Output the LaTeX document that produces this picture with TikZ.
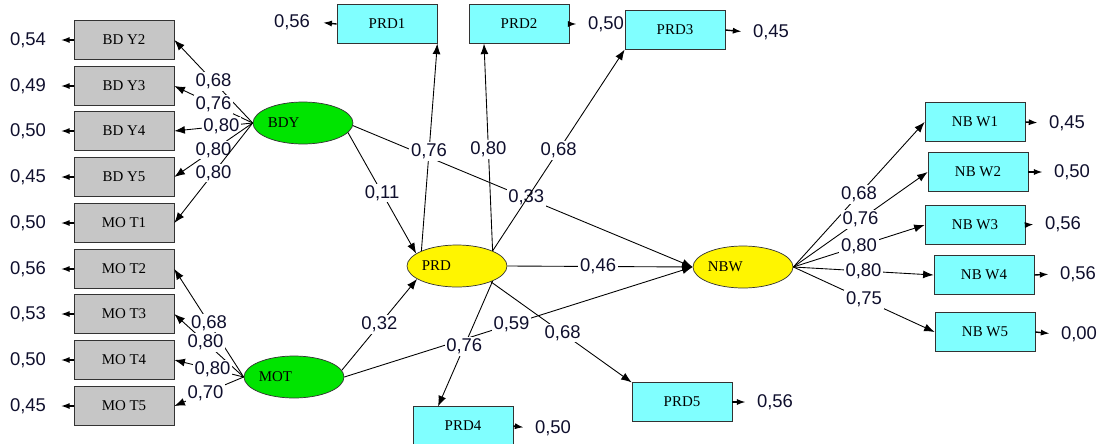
\documentclass[tikz,border=0pt]{standalone}
\usepackage{fontspec}
\setmainfont{Liberation Serif}
\setsansfont{Liberation Sans}
\usepackage{xcolor}
\usetikzlibrary{arrows.meta,shapes.geometric}
\definecolor{boxgray}{RGB}{198,198,198}
\definecolor{boxcyan}{RGB}{128,255,255}
\definecolor{latgreen}{RGB}{0,228,0}
\definecolor{latyellow}{RGB}{255,245,0}
\definecolor{valblue}{RGB}{15,15,45}

\begin{document}
\begin{tikzpicture}[x=0.02cm, y=-0.02cm]
		\tikzstyle{every node}=[font=\sffamily\fontsize{10.5}{12}\selectfont, text=valblue]
		\tikzstyle{indgray}=[draw=black!80, fill=boxgray, minimum width=2cm, minimum height=0.77cm, inner sep=0pt, font=\rmfamily\fontsize{8.5}{10}\selectfont, text=black]
		\tikzstyle{indcyan}=[indgray, fill=boxcyan]
		\tikzstyle{latent}=[draw=black!80, ellipse, minimum width=2cm, minimum height=0.84cm, inner sep=0pt]
		\tikzstyle{latname}=[anchor=west, xshift=0.18cm, font=\rmfamily\fontsize{8.5}{10}\selectfont, text=black]
		\tikzstyle{coef}=[fill=white, inner sep=1pt]
		\tikzstyle{load}=[line width=0.5pt, -{Latex[length=6pt,width=4.5pt]}]
		\tikzstyle{err}=[line width=0.8pt, -{Latex[length=5pt,width=3.5pt]}]
		\useasboundingbox (0,0) rectangle (1099,443);
		% latent variables
		\node [latent, fill=latgreen, label={[latname]west:BDY}] (BDY) at (303,123) {};
		\node [latent, fill=latgreen, label={[latname]west:MOT}] (MOT) at (294,377) {};
		\node [latent, fill=latyellow, label={[latname]west:PRD}] (PRD) at (457,266) {};
		\node [latent, fill=latyellow, label={[latname]west:NBW}] (NBW) at (743,267) {};
		% indicators
		\node [indgray] (BDY2) at (124,40) {BD Y2};
		\node [indgray] (BDY3) at (124,86) {BD Y3};
		\node [indgray] (BDY4) at (124,131) {BD Y4};
		\node [indgray] (BDY5) at (124,177) {BD Y5};
		\node [indgray] (MOT1) at (124,223) {MO T1};
		\node [indgray] (MOT2) at (124,269) {MO T2};
		\node [indgray] (MOT3) at (124,314) {MO T3};
		\node [indgray] (MOT4) at (124,360) {MO T4};
		\node [indgray] (MOT5) at (124,406) {MO T5};
		\node [indcyan] (PRD1) at (387,24) {PRD1};
		\node [indcyan] (PRD2) at (519,24) {PRD2};
		\node [indcyan] (PRD3) at (675,30) {PRD3};
		\node [indcyan] (PRD4) at (463,426) {PRD4};
		\node [indcyan] (PRD5) at (682,402) {PRD5};
		\node [indcyan] (NBW1) at (975,122) {NB W1};
		\node [indcyan] (NBW2) at (978,172) {NB W2};
		\node [indcyan] (NBW3) at (975,225) {NB W3};
		\node [indcyan] (NBW4) at (984,275) {NB W4};
		\node [indcyan] (NBW5) at (985,332) {NB W5};
		% error values
		\node (eBDY2) at (28,40) {0,54};
		\node (eBDY3) at (28,86) {0,49};
		\node (eBDY4) at (28,131) {0,50};
		\node (eBDY5) at (28,177) {0,45};
		\node (eMOT1) at (28,223) {0,50};
		\node (eMOT2) at (28,269) {0,56};
		\node (eMOT3) at (28,314) {0,53};
		\node (eMOT4) at (28,360) {0,50};
		\node (eMOT5) at (28,406) {0,45};
		\node (ePRD1) at (292,22) {0,56};
		\node (ePRD2) at (606,24) {0,50};
		\node (ePRD3) at (771,32) {0,45};
		\node (ePRD4) at (553,428) {0,50};
		\node (ePRD5) at (775,402) {0,56};
		\node (eNBW1) at (1067,123) {0,45};
		\node (eNBW2) at (1072,172) {0,50};
		\node (eNBW3) at (1063,224) {0,56};
		\node (eNBW4) at (1078,274) {0,56};
		\node (eNBW5) at (1079,334) {0,00};
		\foreach \n in {BDY2,BDY3,BDY4,BDY5,MOT1,MOT2,MOT3,MOT4,MOT5}
			\draw [err, shorten >=5pt] (\n.west) -- (e\n.east);
		\foreach \n in {PRD1}
			\draw [err, shorten >=4pt] (\n.west) -- (e\n.east);
		\foreach \n in {PRD2,PRD3,PRD4,PRD5,NBW1,NBW2,NBW3,NBW4,NBW5}
			\draw [err, shorten >=3pt] (\n.east) -- (e\n.west);
		% loadings
		\draw [load] (BDY.west) -- node [coef] {0,68} (BDY2.east);
		\draw [load] (BDY.west) -- node [coef] {0,76} (BDY3.east);
		\draw [load] (BDY.west) -- node [coef, pos=0.4] {0,80} (BDY4.east);
		\draw [load] (BDY.west) -- node [coef] {0,80} (BDY5.east);
		\draw [load] (BDY.west) -- node [coef] {0,80} (MOT1.east);
		\draw [load] (MOT.west) -- node [coef] {0,68} (MOT2.east);
		\draw [load] (MOT.west) -- node [coef, pos=0.55] {0,80} (MOT3.east);
		\draw [load] (MOT.west) -- node [coef, pos=0.45] {0,80} (MOT4.east);
		\draw [load] (MOT.west) -- node [coef, pos=0.55] {0,70} (MOT5.east);
		% structural paths
		\draw [load] (BDY.-3) -- node [coef, pos=0.51] {0,33} (NBW.west);
		\draw [load] (MOT.east) -- node [coef, pos=0.48] {0,59} (NBW.west);
		\draw [load] (PRD.east) -- node [coef, pos=0.49] {0,46} (NBW.west);
		\draw [load] (BDY.-12) -- node [coef] {0,11} (PRD.163);
		\draw [load] (MOT.8) -- node [coef] {0,32} (PRD.198);
		\draw [load] (PRD.north west) -- node [coef, pos=0.48] {0,76} (PRD1.south east);
		\draw [load] (PRD.north east) -- node [coef, pos=0.49] {0,80} ([xshift=-0.7cm]PRD2.south);
		\draw [load] (PRD.north east) -- node [coef, pos=0.5] {0,68} (PRD3.south west);
		\draw [load] (PRD.south east) -- node [coef, pos=0.52] {0,76} ([xshift=-0.5cm]PRD4.north);
		\draw [load] (PRD.-25) -- node [coef, pos=0.51] {0,68} (PRD5.north west);
		\draw [load] (NBW.east) -- node [coef] {0,68} (NBW1.west);
		\draw [load] (NBW.east) -- node [coef] {0,76} (NBW2.west);
		\draw [load] (NBW.east) -- node [coef] {0,80} (NBW3.west);
		\draw [load] (NBW.east) -- node [coef] {0,80} (NBW4.west);
		\draw [load] (NBW.east) -- node [coef] {0,75} (NBW5.west);
\end{tikzpicture}
\end{document}
